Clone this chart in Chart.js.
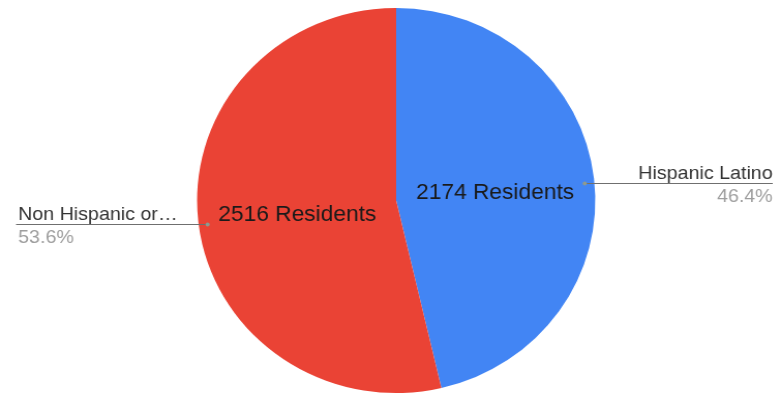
<!DOCTYPE html>
<html>
<head>
<meta charset="utf-8">
<script src="https://cdn.jsdelivr.net/npm/chart.js@4.4.0/dist/chart.umd.min.js"></script>
<style>
    html, body { margin: 0; padding: 0; background: #ffffff; overflow: hidden; }
    #wrap {
        width: 756px;
        height: 398px;
        transform: scaleX(1.0344);
        transform-origin: 0 0;
    }
</style>
</head>
<body>
<div id="wrap"><canvas id="ethnicityPie"></canvas></div>
<script>
const groups = ["Hispanic Latino", "Non Hispanic or\u2026"];
const residents = [2174, 2516];
const sliceColors = ["#4285f4", "#ea4335"];

const FONT = "'Liberation Sans', Arial, sans-serif";

// inner value labels + outside leader lines with name and share
const pieLabels = {
    id: "pieLabels",
    afterDatasetsDraw(chart) {
        const ctx = chart.ctx;
        const meta = chart.getDatasetMeta(0);
        const total = residents.reduce((a, b) => a + b, 0);

        meta.data.forEach((arc, i) => {
            const { x, y, startAngle, endAngle, outerRadius } = arc.getProps(
                ["x", "y", "startAngle", "endAngle", "outerRadius"], true);
            const mid = (startAngle + endAngle) / 2;

            // value inside the slice
            const pos = arc.tooltipPosition(true);
            ctx.save();
            ctx.font = "22px " + FONT;
            ctx.fillStyle = "#1a1a1a";
            ctx.textAlign = "center";
            ctx.textBaseline = "middle";
            ctx.fillText(residents[i] + " Residents", pos.x, pos.y + 3);
            ctx.restore();

            // leader line
            const r = outerRadius - 9;
            const dotX = x + Math.cos(mid) * r;
            const dotY = Math.round(y + Math.sin(mid) * r + 3) + 0.5;
            const right = Math.cos(mid) >= 0;
            const endX = right ? chart.width - 9 : 15.5;

            ctx.save();
            ctx.strokeStyle = "#6f6f6f";
            ctx.lineWidth = 1;
            ctx.beginPath();
            ctx.moveTo(dotX, dotY);
            ctx.lineTo(endX, dotY);
            ctx.stroke();

            ctx.fillStyle = "#8f9a8f";
            ctx.beginPath();
            ctx.arc(dotX, dotY, 2, 0, Math.PI * 2);
            ctx.fill();

            const pct = (residents[i] / total * 100).toFixed(1) + "%";
            ctx.font = "19px " + FONT;
            ctx.textBaseline = "alphabetic";
            ctx.textAlign = right ? "right" : "left";
            const textX = right ? endX : 17.5;
            ctx.fillStyle = "#333333";
            ctx.fillText(groups[i], textX, dotY - 5);
            ctx.fillStyle = "#9e9e9e";
            ctx.fillText(pct, textX, dotY + 18.5);
            ctx.restore();
        });
    }
};

new Chart(document.getElementById("ethnicityPie"), {
    type: "pie",
    data: {
        labels: groups,
        datasets: [{
            data: residents,
            backgroundColor: sliceColors,
            borderWidth: 0
        }]
    },
    options: {
        responsive: true,
        maintainAspectRatio: false,
        animation: false,
        layout: {
            padding: { top: 8, bottom: 5, left: 10, right: 0 }
        },
        plugins: {
            legend: { display: false },
            tooltip: { enabled: false }
        }
    },
    plugins: [pieLabels]
});
</script>
</body>
</html>
